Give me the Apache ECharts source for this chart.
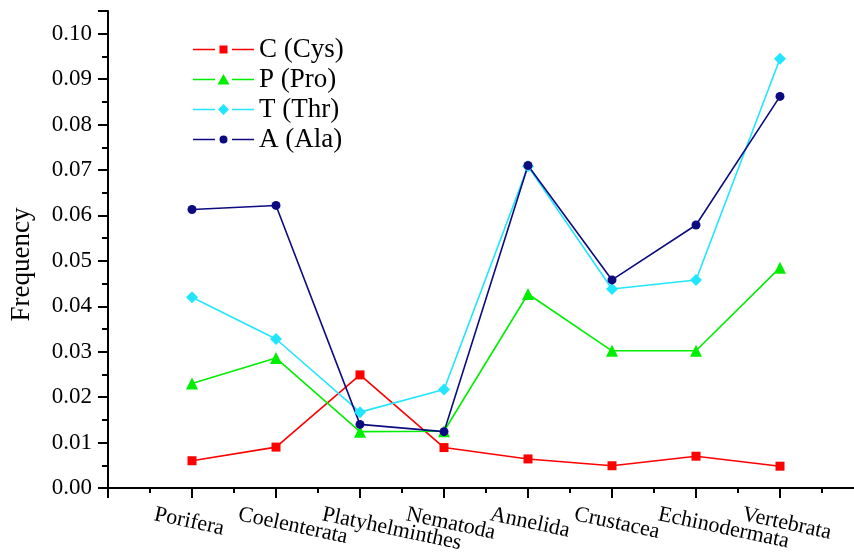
<!DOCTYPE html>
<html>
<head>
<meta charset="utf-8">
<script src="https://cdn.jsdelivr.net/npm/echarts@6/dist/echarts.min.js"></script>
<style>html,body{margin:0;padding:0;background:#fff;}#c{width:854px;height:553px;}</style>
</head>
<body>
<div id="c"></div>
<script>
var categories = ['Porifera','Coelenterata','Platyhelminthes','Nematoda','Annelida','Crustacea','Echinodermata','Vertebrata'];
var cysValues = [0.0060, 0.0090, 0.0249, 0.0089, 0.0064, 0.0049, 0.0070, 0.0048];
var proValues = [0.0230, 0.0286, 0.0124, 0.0125, 0.0427, 0.0302, 0.0302, 0.0485];
var thrValues = [0.0420, 0.0328, 0.0167, 0.0217, 0.0708, 0.0438, 0.0458, 0.0945];
var alaValues = [0.0613, 0.0622, 0.0140, 0.0124, 0.0710, 0.0458, 0.0579, 0.0862];
var seriesNames = ['C (Cys)','P (Pro)','T (Thr)','A (Ala)'];
var yTickLabels = ['0.00','0.01','0.02','0.03','0.04','0.05','0.06','0.07','0.08','0.09','0.10'];

function pts(vals){ return vals.map(function(v,i){ return [i+1, v]; }); }
var font = '"Liberation Serif", "Times New Roman", serif';
var chart = echarts.init(document.getElementById('c'));
function mk(name, vals, color, symbol, size){
  return {
    name: name, type: 'line', data: pts(vals), symbol: symbol, symbolSize: size,
    lineStyle: {color: color, width: 1.6}, itemStyle: {color: color},
    emphasis: {disabled: true}
  };
}
// legend icons: line - marker - line, drawn in a 61x13 box
var legLines = 'M0,0 L0,0 M61,13 L61,13 M0,5.7 L22,5.7 L22,7.3 L0,7.3 Z M39,5.7 L61,5.7 L61,7.3 L39,7.3 Z ';
var legIcons = [
  'path://' + legLines + 'M26.5,2.5 L34.5,2.5 L34.5,10.5 L26.5,10.5 Z',
  'path://' + legLines + 'M30.5,1 L36.5,11.5 L24.5,11.5 Z',
  'path://' + legLines + 'M30.5,1 L36,6.5 L30.5,12 L25,6.5 Z',
  'path://' + legLines + 'M34.5,6.5 A4,4 0 1 1 26.5,6.5 A4,4 0 1 1 34.5,6.5 Z'
];
chart.setOption({
  animation: false,
  backgroundColor: '#ffffff',
  grid: {left: 108, top: 11, width: 756, height: 477, outerBoundsMode: 'none', containLabel: false},
  legend: {
    orient: 'vertical', left: 188, top: 31, itemWidth: 61, itemHeight: 13, itemGap: 3,
    itemStyle: {borderWidth: 0},
    textStyle: {fontFamily: font, fontSize: 27, color: '#000'},
    data: seriesNames.map(function(n, i){ return {name: n, icon: legIcons[i]}; })
  },
  xAxis: {
    type: 'value', min: 0, max: 9, interval: 1,
    axisLine: {lineStyle: {color: '#000', width: 2}},
    axisTick: {length: 10, lineStyle: {color: '#000', width: 2}},
    minorTick: {show: true, splitNumber: 2, length: 5, lineStyle: {color: '#000', width: 2}},
    splitLine: {show: false},
    axisLabel: {
      rotate: -12, align: 'left', verticalAlign: 'top', margin: 23, padding: [0, 0, 0, -36],
      fontFamily: font, fontSize: 22, color: '#000',
      formatter: function(v){ var i = Math.round(v) - 1; return (i >= 0 && i < categories.length) ? categories[i] : ''; }
    }
  },
  yAxis: {
    type: 'value', min: 0, max: 0.105, interval: 0.01,
    name: 'Frequency', nameLocation: 'middle', nameGap: 73, nameRotate: 90,
    nameTextStyle: {fontFamily: font, fontSize: 27, color: '#000', padding: [0, 30, 0, 0]},
    axisLine: {lineStyle: {color: '#000', width: 2}},
    axisTick: {length: 10, lineStyle: {color: '#000', width: 2}},
    minorTick: {show: true, splitNumber: 2, length: 6, lineStyle: {color: '#000', width: 2}},
    splitLine: {show: false},
    axisLabel: {
      margin: 16, fontFamily: font, fontSize: 23, color: '#000',
      formatter: function(v){ var i = Math.round(v * 100); return (Math.abs(v*100 - i) < 1e-6 && i >= 0 && i < yTickLabels.length) ? yTickLabels[i] : ''; }
    }
  },
  series: [
    mk(seriesNames[0], cysValues, '#ff0000', 'rect', 9),
    mk(seriesNames[1], proValues, '#00ee00', 'triangle', 12),
    mk(seriesNames[2], thrValues, '#22e5ff', 'diamond', 12),
    mk(seriesNames[3], alaValues, '#0c0c80', 'circle', 9)
  ]
});
</script>
</body>
</html>
